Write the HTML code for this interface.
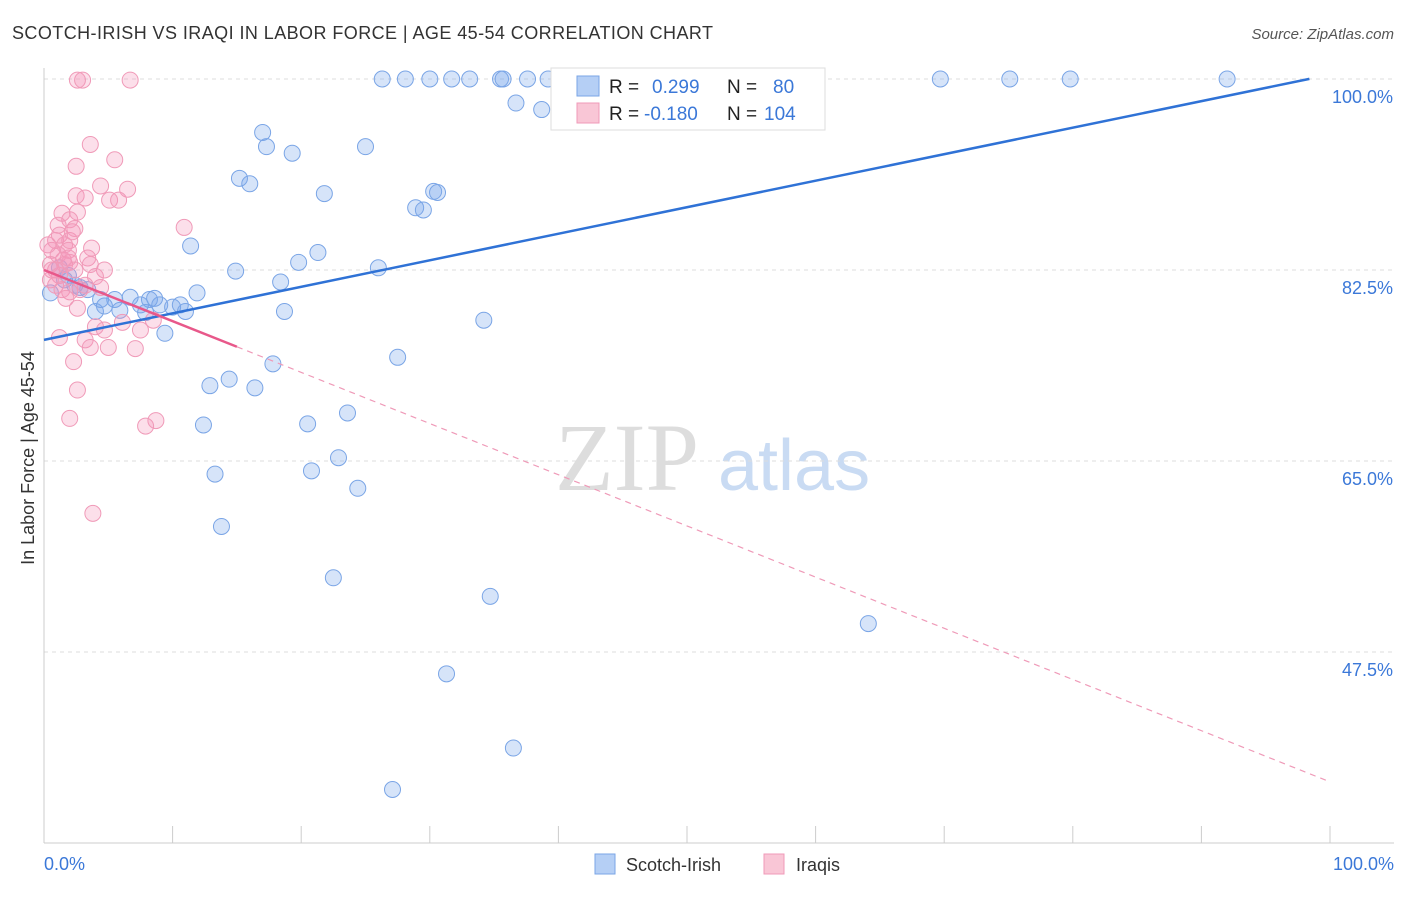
<!DOCTYPE html>
<html><head><meta charset="utf-8"><style>
body{margin:0;background:#fff;font-family:"Liberation Sans",sans-serif;}
</style></head><body>
<svg id="c" width="1406" height="892" xmlns="http://www.w3.org/2000/svg">
<text x="12" y="39" font-size="18" fill="#333" textLength="701">SCOTCH-IRISH VS IRAQI IN LABOR FORCE | AGE 45-54 CORRELATION CHART</text>
<text x="1394" y="39" font-size="15" fill="#555" font-style="italic" text-anchor="end">Source: ZipAtlas.com</text>
<text x="555" y="490" font-size="96" fill="#ddd" font-family="Liberation Serif,serif">ZIP</text>
<text x="718" y="490" font-size="72" fill="#c9dbf3">atlas</text>
<g id="grid"></g><g id="pts"></g><g id="lines"></g>
<text x="34" y="458" font-size="18" fill="#333" transform="rotate(-90 34 458)" text-anchor="middle">In Labor Force | Age 45-54</text>
<g>
<rect x="551" y="68" width="274" height="62" fill="#fff" stroke="#ddd"/>
<rect x="577" y="76" width="22" height="20" fill="#b5cff5" stroke="#7aa5e6"/>
<rect x="577" y="103" width="22" height="20" fill="#f9c6d6" stroke="#f09ab8"/>
<text x="609" y="93" font-size="19" fill="#222">R =</text><text x="652" y="93" font-size="19" fill="#3b78d8">0.299</text>
<text x="727" y="93" font-size="19" fill="#222">N =</text><text x="773" y="93" font-size="19" fill="#3b78d8">80</text>
<text x="609" y="120" font-size="19" fill="#222">R =</text><text x="644" y="120" font-size="19" fill="#3b78d8">-0.180</text>
<text x="727" y="120" font-size="19" fill="#222">N =</text><text x="764" y="120" font-size="19" fill="#3b78d8">104</text>
</g>
<g>
<rect x="595" y="854" width="20" height="20" fill="#b5cff5" stroke="#7aa5e6"/>
<text x="626" y="871" font-size="18" fill="#333">Scotch-Irish</text>
<rect x="764" y="854" width="20" height="20" fill="#f9c6d6" stroke="#f09ab8"/>
<text x="796" y="871" font-size="18" fill="#333">Iraqis</text>
</g>
</svg>
<script>
const blueX=[26.3,28.1,30.0,31.7,33.1,35.5,35.7,37.6,39.2,43.1,48.3,51.6,69.7,75.1,79.8,92.0,36.7,38.7,17.0,17.3,19.3,25.0,15.2,16.0,21.8,30.3,30.6,28.9,29.5,11.4,21.3,19.8,14.9,26.0,18.4,11.9,0.5,5.5,6.7,8.2,9.0,10.0,10.6,11.0,7.9,5.9,4.0,4.7,3.4,2.4,1.6,18.7,34.2,9.4,27.5,17.8,14.4,12.9,16.4,23.6,12.4,20.5,22.9,20.8,13.3,24.4,13.8,22.5,34.7,64.1,31.3,36.5,27.1,1.9,1.2,2.8,4.4,7.5,8.6];
const blueY=[100,100,100,100,100,100,100,100,100,100,100,100,100,100,100,100,97.8,97.2,95.1,93.8,93.2,93.8,90.9,90.4,89.5,89.7,89.6,88.2,88.0,84.7,84.1,83.2,82.4,82.7,81.4,80.4,80.4,79.8,80.0,79.8,79.3,79.1,79.3,78.7,78.6,78.8,78.7,79.2,80.7,81.1,81.6,78.7,77.9,76.7,74.5,73.9,72.5,71.9,71.7,69.4,68.3,68.4,65.3,64.1,63.8,62.5,59.0,54.3,52.6,50.1,45.5,38.7,34.9,82.0,82.7,80.9,79.8,79.3,79.9];
const pinkX=[2.6,3.0,6.7,3.6,2.5,5.5,4.4,6.5,2.5,3.2,5.1,5.8,1.4,2.6,2.0,10.9,0.9,1.2,1.6,2.0,2.4,0.6,1.1,1.5,1.9,2.2,0.5,0.9,1.2,1.6,2.0,3.7,3.4,3.6,4.7,4.0,0.5,0.9,1.4,2.0,2.8,1.7,2.6,4.4,6.1,8.5,4.0,7.5,3.2,4.7,1.2,3.6,5.0,7.1,2.3,2.6,2.0,8.7,7.9,3.8,0.3,0.6,1.1,1.9,2.4,3.2];
const pinkY=[99.9,99.9,99.9,94.0,92.0,92.6,90.2,89.9,89.3,89.1,88.9,88.9,87.7,87.8,87.1,86.4,85.2,85.7,84.8,85.2,86.3,84.3,83.9,83.4,84.3,86.0,83.0,82.5,82.0,83.0,83.2,84.5,83.6,83.0,82.5,81.9,81.6,81.1,80.7,80.5,80.7,79.9,79.0,80.9,77.7,77.9,77.3,77.0,76.1,77.0,76.3,75.4,75.4,75.3,74.1,71.5,68.9,68.7,68.2,60.2,84.8,82.5,86.6,83.6,82.5,81.1];
const yTicks=[100,82.5,65,47.5];
const blueTrend=[76.1,100.4];
const pinkTrend=[82.5,35.6];
const NS="http://www.w3.org/2000/svg";
const X=v=>44+v*12.86, Y=v=>79+(100-v)*10.914;
function el(t,a,p){const e=document.createElementNS(NS,t);for(const k in a)e.setAttribute(k,a[k]);document.getElementById(p).appendChild(e);return e;}
yTicks.forEach(t=>{
 const l=el('line',{x1:44,x2:1394,y1:Y(t),y2:Y(t),stroke:'#ddd','stroke-dasharray':'4 4'},'grid');
 
 
 const tx=el('text',{x:1393,y:Y(t)+24,'font-size':18,fill:'#3b78d8','text-anchor':'end'},'grid');
 tx.textContent=t.toFixed(1)+'%';
 
 
});
el('line',{x1:44,x2:44,y1:68,y2:843,stroke:'#ccc'},'grid');
el('line',{x1:44,x2:1394,y1:843,y2:843,stroke:'#ccc'},'grid');
for(let i=0;i<=10;i++){const t=el('line',{x1:X(i*10),x2:X(i*10),y1:826,y2:843,stroke:'#ccc'},'grid');
 
 }
const x0=el('text',{x:44,y:870,'font-size':18,fill:'#3b78d8'},'grid');x0.textContent='0.0%';


const x1=el('text',{x:1394,y:870,'font-size':18,fill:'#3b78d8','text-anchor':'end'},'grid');x1.textContent='100.0%';


blueX.forEach((v,i)=>{const c=el('circle',{cx:X(v),cy:Y(blueY[i]),r:8,fill:'rgba(120,165,235,0.3)',stroke:'#7aa5e6','stroke-width':1},'pts');
 
 });
pinkX.forEach((v,i)=>{const c=el('circle',{cx:X(v),cy:Y(pinkY[i]),r:8,fill:'rgba(245,150,185,0.3)',stroke:'#f09ab8','stroke-width':1},'pts');
 
 });
const bv=x=>blueTrend[0]+(blueTrend[1]-blueTrend[0])*x/100;
const bl=el('line',{x1:X(0),y1:Y(bv(0)),x2:X(98.4),y2:Y(bv(98.4)),stroke:'#2f72d6','stroke-width':2.5},'lines');


const pv=x=>pinkTrend[0]+(pinkTrend[1]-pinkTrend[0])*x/100;
const ps=el('line',{x1:X(0),y1:Y(pv(0)),x2:X(15),y2:Y(pv(15)),stroke:'#e8588a','stroke-width':2.5},'lines');


const pd=el('line',{x1:X(15),y1:Y(pv(15)),x2:X(100),y2:Y(pv(100)),stroke:'#ef9ab8','stroke-width':1.2,'stroke-dasharray':'6 5'},'lines');


</script>
</body></html>
